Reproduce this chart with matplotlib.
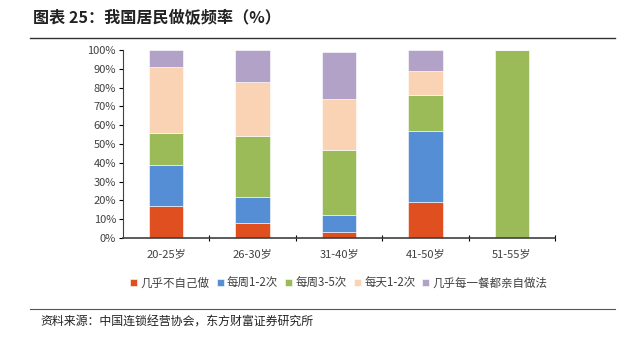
import matplotlib
matplotlib.use('Agg')
import matplotlib.pyplot as plt
import numpy as np
from matplotlib.ticker import PercentFormatter
from matplotlib.lines import Line2D

plt.rcParams['font.family'] = ['Noto Sans CJK SC', 'DejaVu Sans']

groups = ['20-25岁', '26-30岁', '31-40岁', '41-50岁', '51-55岁']
series = ['几乎不自己做', '每周1-2次', '每周3-5次', '每天1-2次', '几乎每一餐都亲自做法']
never = [17, 8, 3, 19, 0]
week12 = [22, 14, 9, 38, 0]
week35 = [17, 32, 35, 19, 100]
day12 = [35, 29, 27, 13, 0]
every = [9, 17, 25, 11, 0]
colors = ['#DF4F1F', '#558ED5', '#9BBB59', '#FAD3B4', '#B3A2C7']

fig = plt.figure(figsize=(6.37, 3.37), dpi=100)
ax = fig.add_axes([123 / 637, 1 - 238 / 337, 432 / 637, 188 / 337])

x = np.arange(len(groups))
bottom = np.zeros(len(groups))
for name, vals, c in zip(series, [never, week12, week35, day12, every], colors):
    ax.bar(x, vals, 0.4, bottom=bottom, color=c, label=name,
           edgecolor='white', linewidth=0.4)
    bottom += np.array(vals)

ax.set_xlim(-0.5, len(groups) - 0.5)
ax.set_ylim(0, 100)
ax.set_yticks(range(0, 101, 10))
ax.yaxis.set_major_formatter(PercentFormatter(decimals=0))
ax.set_xticks(x)
ax.set_xticklabels(groups)
ax.set_xticks(np.arange(0.5, len(groups), 1), minor=True)
ax.tick_params(axis='x', which='major', length=0, pad=8, labelsize=8, labelcolor='#404040')
ax.tick_params(axis='x', which='minor', length=4, direction='inout', width=0.8)
ax.tick_params(axis='y', length=3, width=0.8, labelsize=8, labelcolor='#404040', pad=2)
for s in ['top', 'right']:
    ax.spines[s].set_visible(False)
ax.spines['left'].set_color('#404040')
ax.spines['bottom'].set_color('#404040')
ax.spines['bottom'].set_linewidth(1.2)

ax.legend(loc='center', bbox_to_anchor=(0.5, -0.24), ncol=5, frameon=False,
          fontsize=8.3, handlelength=0.6, handleheight=0.6, handletextpad=0.3,
          columnspacing=0.6, labelcolor='#404040')

fig.text(33 / 637, 1 - 18 / 337, '图表 25：我国居民做饭频率（%）', fontsize=11.6,
         fontweight='bold', va='center', color='#222222')
fig.add_artist(Line2D([30 / 637, 615 / 637], [1 - 38 / 337] * 2, color='#333333', lw=1))
fig.add_artist(Line2D([30 / 637, 615 / 637], [1 - 309 / 337] * 2, color='#555555', lw=0.8))
fig.text(40 / 637, 1 - 322 / 337, '资料来源：中国连锁经营协会，东方财富证券研究所', fontsize=8.6,
         va='center', color='#222222')

fig.savefig('out.png', dpi=100)
